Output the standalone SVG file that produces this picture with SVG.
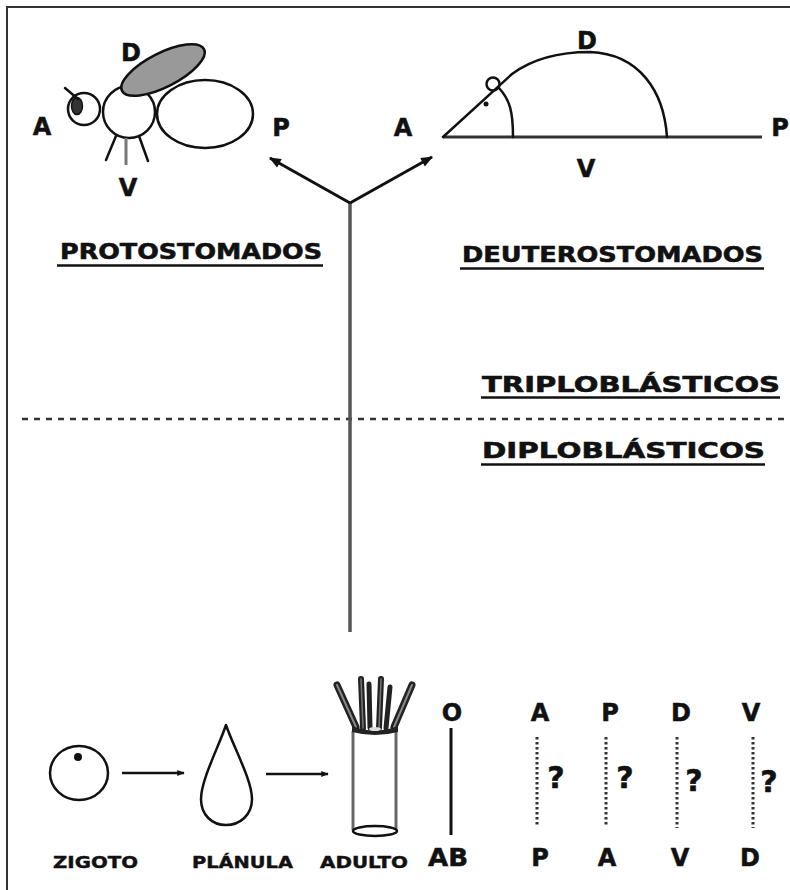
<svg xmlns="http://www.w3.org/2000/svg" width="790" height="890" viewBox="0 0 790 890">
  <style>
    .lbl { font-family: "DejaVu Sans", Verdana, sans-serif; font-weight: bold; fill: #111; stroke: #111; stroke-width: 0.5; }
    .axis { font-size: 24px; text-anchor: middle; }
    .q { font-size: 30px; text-anchor: middle; }
    .title { font-size: 22px; stroke-width: 0.6; }
    .small { font-size: 15px; stroke-width: 0.4; }
    .ink { fill: none; stroke: #111; stroke-width: 2.5; stroke-linecap: round; stroke-linejoin: round; }
    .uline { stroke: #111; stroke-width: 2.5; }
    .dots { stroke: #333; stroke-width: 3; stroke-dasharray: 2.5 2.5; }
  </style>
  <defs>
    <marker id="head" viewBox="0 0 10 10" refX="9" refY="5" markerWidth="5" markerHeight="4" orient="auto" markerUnits="strokeWidth">
      <path d="M0,1 L10,5 L0,9 Z" fill="#111"/>
    </marker>
    <marker id="headSmall" viewBox="0 0 10 10" refX="9" refY="5" markerWidth="5" markerHeight="3" orient="auto" markerUnits="strokeWidth">
      <path d="M0,1 L10,5 L0,9 Z" fill="#111"/>
    </marker>
  </defs>
  <rect width="790" height="890" fill="#fff"/>
  <!-- frame -->
  <path d="M7,890 L7,7 L790,7" fill="none" stroke="#333" stroke-width="2"/>

  <!-- fly (protostome) -->
  <g id="fly">
    <ellipse cx="205" cy="114" rx="48" ry="34" class="ink" fill="#fff"/>
    <circle cx="129" cy="112" r="26" class="ink" fill="#fff"/>
    <ellipse cx="163" cy="70" rx="46" ry="17" transform="rotate(-27 163 70)" fill="#999" stroke="#111" stroke-width="2.5"/>
    <circle cx="84" cy="109" r="16" class="ink" fill="#fff"/>
    <ellipse cx="77" cy="106" rx="5.5" ry="8.5" fill="#333" stroke="#111" stroke-width="1.5"/>
    <line x1="65" y1="88" x2="78" y2="99" class="ink"/>
    <line x1="116" y1="136" x2="106" y2="160" class="ink"/>
    <line x1="126" y1="138" x2="126" y2="165" stroke="#777" stroke-width="3"/>
    <line x1="139" y1="136" x2="148" y2="161" class="ink"/>
    <text class="lbl axis" x="131" y="61">D</text>
    <text class="lbl axis" x="42" y="135">A</text>
    <text class="lbl axis" x="281" y="136">P</text>
    <text class="lbl axis" x="128" y="196">V</text>
  </g>

  <!-- mouse (deuterostome) -->
  <g id="mouse">
    <line x1="443" y1="137" x2="762" y2="137" stroke="#333" stroke-width="3"/>
    <path d="M443,137 L512,74 C535,57 565,52 590,52 C640,54 664,92 667,137" class="ink" stroke-width="3"/>
    <circle cx="493" cy="84" r="6.5" class="ink" stroke-width="2"/>
    <path d="M499,88 C510,100 513,112 513,137" class="ink" stroke-width="2"/>
    <circle cx="486" cy="104" r="2.5" fill="#111"/>
    <text class="lbl axis" x="587" y="49">D</text>
    <text class="lbl axis" x="403" y="136">A</text>
    <text class="lbl axis" x="780" y="136">P</text>
    <text class="lbl axis" x="586" y="177">V</text>
  </g>

  <!-- branch labels -->
  <g id="protostomados">
    <text class="lbl title" x="60" y="259" textLength="262" lengthAdjust="spacingAndGlyphs">PROTOSTOMADOS</text>
    <line x1="57" y1="265.5" x2="323" y2="265.5" class="uline"/>
  </g>
  <g id="deuterostomados">
    <text class="lbl title" x="462" y="262" textLength="301" lengthAdjust="spacingAndGlyphs">DEUTEROSTOMADOS</text>
    <line x1="460" y1="268.5" x2="764" y2="268.5" class="uline"/>
  </g>
  <g id="triploblasticos">
    <text class="lbl title" x="482" y="392" textLength="298" lengthAdjust="spacingAndGlyphs">TRIPLOBLÁSTICOS</text>
    <line x1="481" y1="397.5" x2="780" y2="397.5" class="uline"/>
  </g>
  <g id="diploblasticos">
    <text class="lbl title" x="482" y="458" textLength="283" lengthAdjust="spacingAndGlyphs">DIPLOBLÁSTICOS</text>
    <line x1="481" y1="464.5" x2="765" y2="464.5" class="uline"/>
  </g>

  <!-- connectors -->
  <g id="connectors">
    <line x1="22" y1="419" x2="790" y2="419" stroke="#333" stroke-width="2.5" stroke-dasharray="6 6"/>
    <line x1="350" y1="203" x2="350" y2="632" stroke="#555" stroke-width="3.5"/>
    <line x1="350" y1="203" x2="270" y2="158" stroke="#111" stroke-width="3" marker-end="url(#head)"/>
    <line x1="350" y1="203" x2="432" y2="157" stroke="#111" stroke-width="3" marker-end="url(#head)"/>
    <line x1="122" y1="773" x2="184" y2="773" stroke="#111" stroke-width="2.5" marker-end="url(#headSmall)"/>
    <line x1="266" y1="774" x2="328" y2="774" stroke="#111" stroke-width="2.5" marker-end="url(#headSmall)"/>
  </g>

  <!-- life cycle -->
  <g id="zigoto">
    <ellipse cx="79" cy="773" rx="29" ry="27" class="ink"/>
    <circle cx="78" cy="757" r="4" fill="#111"/>
    <text class="lbl small" x="53" y="868" textLength="85" lengthAdjust="spacingAndGlyphs">ZIGOTO</text>
  </g>
  <g id="planula">
    <path d="M226,725 C219,746 201,780 201,799 C201,815 212,825 226,825 C240,825 252,815 252,799 C252,780 233,746 226,725 Z" class="ink"/>
    <text class="lbl small" x="192" y="868" textLength="101" lengthAdjust="spacingAndGlyphs">PLÁNULA</text>
  </g>
  <g id="adulto">
    <line x1="353" y1="731" x2="353" y2="830" stroke="#666" stroke-width="3"/>
    <line x1="396" y1="731" x2="396" y2="830" stroke="#666" stroke-width="3"/>
    <ellipse cx="375" cy="831" rx="22" ry="5" class="ink"/>
    <!-- tentacles -->
    <g stroke-linecap="round">
      <line x1="337" y1="685" x2="356" y2="727" stroke="#222" stroke-width="7"/>
      <line x1="337" y1="685" x2="356" y2="727" stroke="#888" stroke-width="2"/>
      <line x1="412" y1="685" x2="394" y2="727" stroke="#222" stroke-width="7"/>
      <line x1="412" y1="685" x2="394" y2="727" stroke="#888" stroke-width="2"/>
      <line x1="361" y1="679" x2="363" y2="728" stroke="#222" stroke-width="6"/>
      <line x1="361" y1="679" x2="363" y2="728" stroke="#777" stroke-width="1.5"/>
      <line x1="369" y1="684" x2="370" y2="728" stroke="#222" stroke-width="5"/>
      <line x1="381" y1="679" x2="379" y2="728" stroke="#222" stroke-width="6"/>
      <line x1="381" y1="679" x2="379" y2="728" stroke="#777" stroke-width="1.5"/>
      <line x1="390" y1="687" x2="386" y2="728" stroke="#222" stroke-width="5"/>
    </g>
    <path d="M352,726 Q375,735 398,726 L398,732 Q375,738 352,732 Z" fill="#222"/>
    <ellipse cx="375" cy="729" rx="6" ry="2" fill="#ddd"/>
    <text class="lbl small" x="320" y="868" textLength="88" lengthAdjust="spacingAndGlyphs">ADULTO</text>
  </g>

  <!-- body axes -->
  <g id="axis-oral">
    <text class="lbl axis" x="452" y="721">O</text>
    <line x1="451" y1="728" x2="451" y2="835" stroke="#111" stroke-width="3"/>
    <text class="lbl axis" x="448" y="866" textLength="40" lengthAdjust="spacingAndGlyphs">AB</text>
  </g>
  <g id="axis-ap">
    <text class="lbl axis" x="540" y="721">A</text>
    <line x1="537" y1="737" x2="537" y2="825" class="dots"/>
    <text class="lbl q" x="556" y="788">?</text>
    <text class="lbl axis" x="540" y="866">P</text>
  </g>
  <g id="axis-pa">
    <text class="lbl axis" x="610" y="721">P</text>
    <line x1="606" y1="737" x2="606" y2="825" class="dots"/>
    <text class="lbl q" x="625" y="788">?</text>
    <text class="lbl axis" x="607" y="866">A</text>
  </g>
  <g id="axis-dv">
    <text class="lbl axis" x="681" y="721">D</text>
    <line x1="677" y1="737" x2="677" y2="828" class="dots"/>
    <text class="lbl q" x="694" y="791">?</text>
    <text class="lbl axis" x="680" y="866">V</text>
  </g>
  <g id="axis-vd">
    <text class="lbl axis" x="751" y="721">V</text>
    <line x1="753" y1="737" x2="753" y2="828" class="dots"/>
    <text class="lbl q" x="769" y="792">?</text>
    <text class="lbl axis" x="750" y="866">D</text>
  </g>
</svg>
